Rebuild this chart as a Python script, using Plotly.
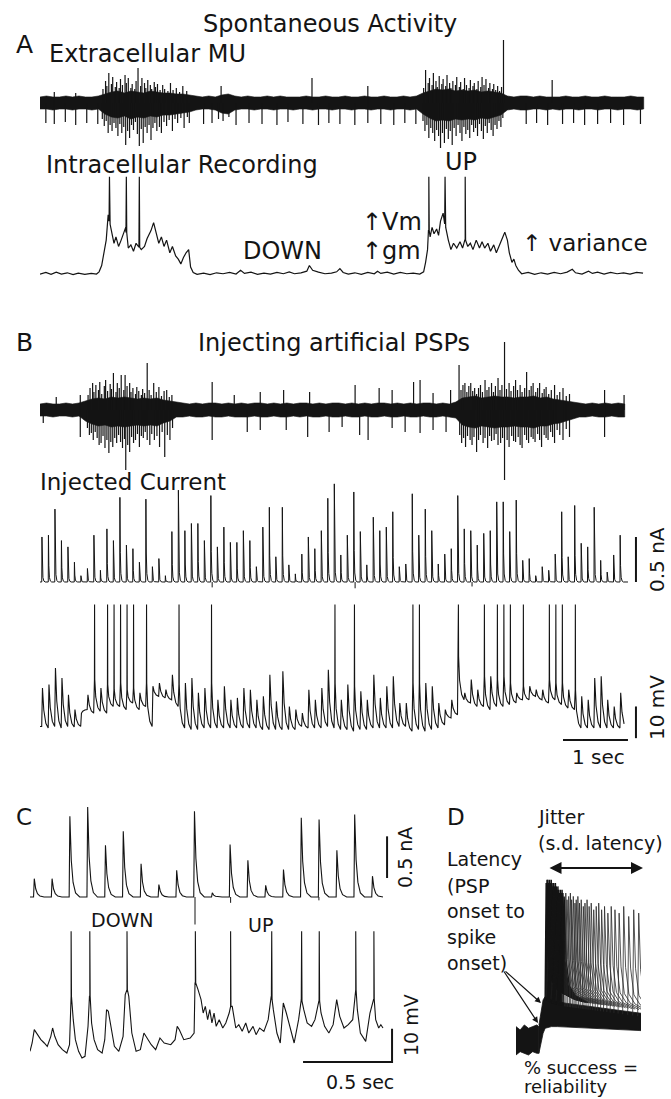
import numpy as np
import plotly.graph_objects as go

W, H = 671, 1099
FONT = "DejaVu Sans"
INK = "#141414"

# ======================= DATA =======================
# ---- Panel A: extracellular multi-unit, dense core envelope per 0.1 s bin (a.u.) ----
a_ext_up = [6, 7, 6, 6, 7, 6, 7, 6, 6, 7,
            9, 11, 12, 10, 12, 11, 10, 12, 11, 10,
            10, 9, 9, 8, 7, 6, 7, 6, 8, 9,
            7, 6, 7, 6, 6, 7, 6, 7, 6, 6,
            6, 7, 6, 6, 7, 6, 6, 7, 6, 6,
            7, 6, 6, 7, 6, 6, 7, 6, 7, 10,
            12, 14, 13, 14, 12, 13, 12, 13, 11, 12,
            11, 10, 7, 6, 7, 7, 6, 7, 6, 6,
            6, 7, 6, 6, 7, 6, 6, 7, 6, 6,
            6, 7, 6, 6]
a_ext_lo = [6, 6, 7, 6, 6, 7, 6, 6, 7, 6,
            11, 14, 15, 13, 16, 14, 15, 13, 14, 12,
            12, 11, 10, 9, 7, 6, 6, 7, 10, 11,
            7, 6, 6, 7, 6, 6, 7, 6, 6, 7,
            6, 6, 7, 6, 6, 7, 6, 6, 7, 6,
            6, 7, 6, 6, 7, 6, 6, 7, 6, 11,
            15, 18, 17, 18, 16, 17, 16, 17, 15, 16,
            14, 12, 7, 6, 7, 7, 6, 6, 7, 6,
            7, 6, 6, 7, 6, 6, 7, 6, 6, 7,
            6, 6, 7, 6]
# unit spikes (time s, amplitude a.u.; negative = downward)
a_ext_spikes = [
    # isolated units during DOWN states
    (0.09, -20), (0.22, -21), (0.22, 11), (0.39, -19), (0.55, -22), (0.55, 10), (0.72, -20), (0.89, -21),
    (2.52, -21), (2.65, -20), (2.75, -16), (2.79, 17), (2.82, -18), (2.91, -14), (3.02, -22), (3.22, -20),
    (3.42, -21), (3.65, -22), (3.82, -19), (4.05, -21), (4.19, 25), (4.29, -22), (4.45, -20), (4.62, -21),
    (4.85, -22), (5.05, -20), (5.05, 17), (5.25, -21), (5.45, -22), (5.62, -20), (5.79, -21),
    (7.49, -21), (7.65, -20), (7.82, -22), (7.89, 23), (8.05, -21), (8.22, -20), (8.39, -22), (8.59, -21),
    (8.79, -20), (8.99, -22), (9.25, -21),
    # first UP state, upward
    (0.97, 14), (1.01, 22), (1.03, 17), (1.06, 30), (1.10, 19), (1.12, 26), (1.16, 16), (1.18, 21),
    (1.22, 15), (1.24, 24), (1.27, 18), (1.31, 28), (1.33, 20), (1.36, 25), (1.40, 15), (1.42, 19),
    (1.46, 14), (1.48, 22), (1.51, 35), (1.55, 17), (1.57, 25), (1.61, 20), (1.63, 15), (1.66, 23),
    (1.70, 18), (1.72, 14), (1.76, 21), (1.78, 16), (1.81, 19), (1.85, 13), (1.89, 18), (1.92, 14),
    (1.97, 12), (2.01, 20), (2.05, 13), (2.10, 15), (2.15, 11), (2.20, 17), (2.26, 12),
    # first UP state, downward
    (0.96, -16), (0.99, -23), (1.02, -18), (1.05, -30), (1.08, -22), (1.11, -28), (1.14, -20), (1.17, -25),
    (1.20, -33), (1.23, -21), (1.26, -30), (1.29, -24), (1.32, -42), (1.35, -28), (1.38, -35), (1.41, -22),
    (1.44, -27), (1.47, -19), (1.50, -31), (1.53, -43), (1.56, -26), (1.59, -40), (1.62, -24), (1.65, -30),
    (1.68, -22), (1.71, -37), (1.74, -25), (1.77, -20), (1.80, -28), (1.84, -24), (1.87, -30), (1.91, -19),
    (1.95, -23), (1.99, -17), (2.04, -28), (2.08, -16), (2.12, -20), (2.17, -15), (2.22, -25), (2.27, -14),
    (2.30, -20),
    # second UP state, upward
    (5.91, 15), (5.94, 33), (5.98, 20), (6.00, 25), (6.04, 18), (6.06, 30), (6.10, 22), (6.12, 16),
    (6.15, 27), (6.19, 19), (6.21, 24), (6.25, 17), (6.27, 28), (6.31, 20), (6.33, 15), (6.36, 22),
    (6.40, 18), (6.42, 26), (6.46, 16), (6.48, 21), (6.52, 14), (6.54, 25), (6.57, 18), (6.61, 15),
    (6.63, 23), (6.67, 17), (6.69, 20), (6.73, 14), (6.75, 22), (6.79, 16), (6.81, 26), (6.84, 18),
    (6.87, 24), (6.91, 15), (6.93, 20), (6.97, 14), (6.99, 19), (7.02, 13), (7.05, 17), (7.08, 12),
    (7.11, 16), (7.14, 63),
    # second UP state, downward
    (5.90, -18), (5.93, -28), (5.96, -22), (5.99, -35), (6.02, -25), (6.05, -30), (6.08, -38), (6.11, -27),
    (6.14, -33), (6.17, -45), (6.20, -30), (6.23, -40), (6.26, -26), (6.29, -36), (6.32, -28), (6.35, -42),
    (6.38, -25), (6.41, -33), (6.44, -22), (6.47, -30), (6.50, -38), (6.53, -24), (6.56, -31), (6.59, -27),
    (6.62, -35), (6.65, -22), (6.68, -29), (6.71, -25), (6.74, -33), (6.77, -21), (6.80, -28), (6.83, -36),
    (6.86, -23), (6.89, -30), (6.92, -20), (6.95, -27), (6.98, -33), (7.01, -22), (7.04, -26), (7.07, -18),
    (7.10, -24), (7.13, -15),
]

# ---- Panel A: intracellular Vm (mV above DOWN-state level) ----
a_vm_pts = [
    (0.00, 0.3), (0.09, 0.8), (0.17, 0.2), (0.25, 0.9), (0.33, 0.3), (0.42, 0.7), (0.51, 0.1), (0.59, 0.6),
    (0.69, 0.2), (0.79, 0.5), (0.87, 0.3), (0.91, 1.0), (0.95, 3.0), (0.99, 7.0), (1.02, 11.0), (1.05, 19.0),
    (1.08, 16.0), (1.11, 13.0), (1.14, 10.0), (1.17, 12.0), (1.21, 9.0), (1.25, 11.0), (1.29, 13.0), (1.32, 15.0),
    (1.36, 8.5), (1.40, 9.5), (1.44, 7.5), (1.48, 10.0), (1.52, 9.0), (1.56, 8.0), (1.61, 9.0), (1.65, 11.5),
    (1.71, 14.0), (1.75, 16.5), (1.79, 13.0), (1.83, 10.0), (1.87, 12.0), (1.91, 9.0), (1.95, 11.0), (2.00, 7.0),
    (2.04, 9.0), (2.09, 6.0), (2.13, 5.0), (2.17, 3.5), (2.21, 5.5), (2.25, 7.0), (2.29, 8.0), (2.32, 2.5),
    (2.36, 0.8), (2.42, 0.2), (2.52, 0.6), (2.62, 0.1), (2.72, 0.7), (2.82, 0.4), (2.92, 0.8), (3.02, 0.3),
    (3.09, 1.5), (3.15, 0.5), (3.25, 0.9), (3.35, 0.2), (3.45, 0.6), (3.55, 0.3), (3.65, 0.8), (3.75, 0.4),
    (3.84, 1.0), (3.92, 0.4), (4.02, 0.7), (4.11, 1.2), (4.15, 3.0), (4.20, 1.5), (4.29, 0.9), (4.39, 0.4),
    (4.49, 0.6), (4.57, 1.0), (4.62, 2.0), (4.67, 0.8), (4.75, 0.3), (4.85, 0.7), (4.95, 0.2), (5.05, 0.8),
    (5.15, 0.4), (5.20, 1.2), (5.25, 0.5), (5.35, 0.9), (5.45, 0.3), (5.55, 0.8), (5.65, 0.4), (5.75, 0.6),
    (5.85, 0.3), (5.91, 1.0), (5.94, 4.0), (5.97, 8.0), (5.99, 14.0), (6.01, 12.0), (6.04, 15.0), (6.07, 13.0),
    (6.11, 14.5), (6.14, 12.5), (6.17, 17.0), (6.21, 19.5), (6.25, 15.0), (6.29, 11.0), (6.33, 8.0), (6.37, 10.0),
    (6.42, 8.5), (6.47, 10.5), (6.51, 8.5), (6.55, 11.0), (6.59, 9.0), (6.63, 10.0), (6.67, 8.0), (6.72, 11.0),
    (6.77, 8.5), (6.81, 10.5), (6.85, 8.5), (6.90, 10.0), (6.94, 7.5), (6.99, 9.5), (7.03, 7.0), (7.07, 9.0),
    (7.12, 11.5), (7.16, 13.5), (7.20, 11.0), (7.23, 7.0), (7.27, 4.0), (7.30, 5.0), (7.33, 3.0), (7.37, 1.5),
    (7.42, 0.4), (7.52, 0.8), (7.62, 0.2), (7.72, 0.7), (7.82, 0.3), (7.92, 0.8), (8.02, 0.4), (8.12, 0.9),
    (8.20, 1.8), (8.25, 0.7), (8.35, 0.3), (8.45, 1.2), (8.51, 0.5), (8.59, 0.9), (8.69, 0.3), (8.79, 0.8),
    (8.89, 0.4), (8.99, 0.7), (9.09, 0.3), (9.19, 0.8), (9.29, 0.6),
]
a_ap_t = [1.07, 1.33, 1.53, 5.99, 6.24, 6.55]
A_AP_TOP = 31.0

# ---- Panel B: extracellular, dense core envelope per 0.1 s bin ----
b_ext_up = [6, 7, 6, 6, 7, 6, 7,
            9, 11, 12, 11, 13, 12, 13, 12, 11, 12, 11, 12, 10, 9,
            8, 7, 6, 7, 6, 7, 7, 6, 7, 6, 7, 6, 7, 7, 6, 7, 6, 7, 6, 7,
            7, 6, 7, 6, 7, 7, 6, 7, 6, 7, 6, 7, 7, 6, 7, 6, 7, 6, 7, 7,
            6, 7, 6, 8,
            12, 13, 14, 12, 13, 14, 13, 13, 12, 13, 13, 14, 12, 13, 11, 10, 9, 8,
            7, 6, 7, 6, 7, 6, 7, 6]
b_ext_lo = [6, 6, 7, 6, 6, 7, 6,
            11, 14, 16, 15, 17, 16, 17, 16, 15, 16, 15, 16, 13, 11,
            7, 7, 6, 7, 7, 6, 7, 7, 6, 7, 7, 7, 6, 7, 7, 6, 7, 7, 6, 7,
            6, 7, 7, 6, 7, 7, 6, 7, 7, 6, 7, 7, 6, 7, 7, 6, 7, 7, 6, 7,
            7, 6, 7, 8,
            15, 17, 18, 16, 17, 18, 17, 17, 16, 17, 17, 18, 16, 16, 14, 13, 11, 9,
            7, 7, 6, 7, 7, 6, 7, 7]
b_ext_spikes = [
    # isolated units between the UP states
    (0.25, 13), (0.62, 15), (2.65, 28), (2.99, 15), (3.39, 18), (3.75, 20), (4.15, 18), (4.85, 25),
    (5.22, 22), (5.42, 20), (5.75, 28), (5.85, 30), (6.05, 17), (6.32, 20), (8.69, 20), (8.99, 15),
    (0.05, -13), (0.62, -27), (2.65, -30), (3.19, -22), (3.39, -20), (3.79, -20), (4.12, -27), (4.45, -22),
    (4.65, -17), (4.92, -25), (5.05, -30), (5.42, -18), (5.62, -22), (5.85, -23), (6.05, -20), (6.25, -22),
    (8.69, -27),
    # first UP state
    (0.74, 15), (0.77, 22), (0.81, 27), (0.83, 18), (0.86, 25), (0.90, 20), (0.92, 28), (0.95, 16),
    (0.99, 24), (1.01, 30), (1.04, 19), (1.08, 26), (1.10, 21), (1.13, 37), (1.17, 18), (1.19, 27),
    (1.22, 22), (1.25, 35), (1.29, 20), (1.31, 35), (1.34, 24), (1.38, 27), (1.40, 18), (1.43, 22),
    (1.47, 16), (1.49, 23), (1.52, 19), (1.56, 15), (1.58, 21), (1.61, 17), (1.65, 47), (1.68, 20),
    (1.71, 15), (1.75, 27), (1.79, 18), (1.83, 23), (1.87, 14), (1.91, 19), (1.95, 20), (1.99, 13), (2.03, 15),
    (0.73, -18), (0.76, -25), (0.79, -23), (0.82, -30), (0.85, -22), (0.88, -28), (0.91, -35), (0.94, -33),
    (0.97, -26), (1.00, -38), (1.03, -30), (1.06, -43), (1.09, -32), (1.12, -37), (1.15, -28), (1.18, -33),
    (1.21, -25), (1.24, -32), (1.27, -38), (1.30, -29), (1.32, -60), (1.35, -35), (1.38, -42), (1.41, -27),
    (1.44, -33), (1.47, -30), (1.50, -24), (1.53, -37), (1.56, -26), (1.59, -28), (1.62, -22), (1.65, -30),
    (1.69, -35), (1.72, -24), (1.76, -30), (1.80, -26), (1.84, -37), (1.88, -22), (1.92, -47), (1.96, -25),
    (2.00, -30), (2.04, -18),
    # second UP state
    (6.45, 45), (6.48, 20), (6.51, 25), (6.54, 27), (6.57, 18), (6.60, 24), (6.63, 27), (6.66, 19),
    (6.69, 22), (6.72, 16), (6.75, 22), (6.78, 25), (6.81, 18), (6.85, 30), (6.88, 20), (6.91, 23),
    (6.95, 27), (6.98, 18), (7.01, 24), (7.05, 32), (7.08, 20), (7.11, 25), (7.15, 68), (7.18, 21),
    (7.22, 27), (7.25, 19), (7.29, 24), (7.32, 30), (7.35, 20), (7.39, 25), (7.42, 18), (7.46, 22),
    (7.49, 38), (7.53, 20), (7.56, 24), (7.59, 27), (7.63, 18), (7.66, 22), (7.69, 27), (7.73, 17),
    (7.76, 21), (7.79, 23), (7.83, 16), (7.87, 20), (7.92, 25), (7.96, 15), (8.00, 18), (8.05, 22),
    (8.10, 14), (8.15, 16),
    (6.46, -25), (6.49, -33), (6.52, -28), (6.55, -37), (6.58, -26), (6.62, -30), (6.65, -35), (6.68, -27),
    (6.72, -42), (6.75, -30), (6.78, -25), (6.82, -33), (6.85, -28), (6.89, -38), (6.92, -26), (6.95, -31),
    (6.99, -30), (7.02, -24), (7.05, -35), (7.09, -33), (7.12, -28), (7.15, -70), (7.19, -30), (7.22, -37),
    (7.26, -26), (7.29, -31), (7.32, -32), (7.36, -27), (7.39, -35), (7.42, -38), (7.46, -25), (7.49, -30),
    (7.52, -33), (7.56, -27), (7.59, -29), (7.62, -32), (7.66, -24), (7.69, -30), (7.72, -37), (7.76, -25),
    (7.79, -28), (7.82, -30), (7.86, -22), (7.89, -27), (7.92, -33), (7.96, -20), (8.00, -25), (8.05, -30),
    (8.10, -19), (8.15, -27),
]

# ---- Panel B: injected current, one pulse every 0.1 s (nA) ----
B_PULSE_T0, PULSE_PERIOD = 0.03, 0.1
b_pulse_nA = [0.50, 0.52, 0.81, 0.46, 0.39, 0.22, 0.07, 0.15, 0.52, 0.13,
              0.59, 0.46, 0.94, 0.41, 0.37, 0.22, 0.92, 0.17, 0.26, 0.07,
              0.56, 1.02, 0.57, 0.65, 0.65, 0.46, 0.96, 0.39, 0.61, 0.44,
              0.44, 0.57, 0.46, 0.17, 0.61, 0.83, 0.28, 0.83, 0.19, 0.09,
              0.31, 0.50, 0.37, 0.57, 0.93, 1.09, 0.30, 0.52, 1.00, 0.56,
              0.19, 0.72, 0.57, 0.61, 0.78, 0.17, 0.20, 0.98, 0.52, 0.81,
              0.57, 0.20, 0.31, 0.37, 0.96, 0.59, 0.57, 0.41, 0.54, 0.57,
              0.89, 0.89, 0.56, 0.91, 0.24, 0.26, 0.07, 0.17, 0.13, 0.31,
              0.78, 0.28, 0.85, 0.43, 0.39, 0.83, 0.24, 0.11, 0.30, 0.52]
b_cur_artifacts = [(2.65, -0.06), (4.85, -0.07), (6.65, -0.05)]

# ---- Panel B: Vm, per pulse: level before the pulse and PSP peak (mV) ----
b_vm_pre = [0.5, 0.0, 0.5, 0.0, 0.5, 0.3, 0.5, 5.8, 4.7, 5.3,
            4.7, 6.8, 6.8, 5.8, 7.9, 5.8, 6.8, 0.5, 10.0, 9.5,
            8.9, 6.8, 0.0, -0.5, -0.5, 0.0, 0.0, 0.0, 0.0, 0.0,
            0.0, 0.0, 0.0, 0.0, -0.5, -0.5, -0.5, -0.5, -0.5, -0.5,
            0.5, 0.0, 0.0, 0.0, 0.5, 0.0, -0.5, -0.5, -1.0, -0.5,
            -0.5, 0.0, 0.0, 0.0, 0.0, 0.5, 0.5, -1.0, -0.5, -1.0,
            -0.5, 0.0, 1.0, 3.2, 4.2, 8.9, 7.9, 6.8, 6.8, 5.8,
            6.8, 6.8, 7.4, 7.9, 8.9, 8.9, 10.0, 8.9, 7.9, 8.9,
            7.4, 6.3, 5.8, 0.0, 0.0, 0.0, 0.0, 0.0, 0.0, 0.0]
b_vm_peak = [12.6, 13.7, 18.9, 15.8, 10.5, 5.8, 4.7, 10.5, 15.3, 12.6,
             13.7, 12.1, 14.2, 12.1, 12.6, 11.1, 14.2, 13.2, 14.2, 12.1,
             16.8, 13.7, 14.2, 15.8, 11.1, 12.6, 14.2, 8.9, 13.2, 8.9,
             9.5, 12.6, 12.1, 8.9, 10.0, 16.8, 8.4, 17.9, 6.8, 5.8,
             4.7, 12.1, 8.9, 12.6, 18.4, 14.2, 8.9, 13.7, 13.2, 11.6,
             8.9, 16.8, 9.5, 13.2, 16.3, 7.9, 7.9, 14.2, 14.2, 14.2,
             13.2, 7.9, 5.8, 8.9, 22.6, 11.1, 15.3, 12.1, 16.3, 16.3,
             15.3, 16.3, 14.2, 11.1, 13.2, 13.2, 12.1, 12.1, 15.3, 14.2,
             14.2, 12.1, 12.1, 10.0, 8.9, 15.8, 16.3, 8.9, 6.8, 11.1]
b_vm_spike_pulse = [9, 11, 12, 13, 14, 15, 17, 22, 27, 46, 49, 58, 59, 65,
                    69, 71, 72, 73, 75, 79, 80, 81, 83]   # 1-based pulse numbers
B_AP_TOP = 39.0

# ---- Panel C: injected current (nA), one pulse every 0.1 s ----
C_PULSE_T0 = 0.024
c_pulse_nA = [0.22, 0.22, 0.97, 1.08, 0.62, 0.79, 0.40, 0.15, 0.32, 1.03,
              0.05, 0.63, 0.44, 0.14, 0.33, 0.95, 0.93, 0.56, 0.99, 0.25]
c_cur_artifacts = [(0.927, -0.33), (1.127, -0.07), (1.623, -0.04)]

# ---- Panel C: Vm (mV above DOWN-state level) ----
c_vm_pts = [
    (0.000, 0.5), (0.012, 3.0), (0.024, 7.0), (0.044, 5.5), (0.061, 4.0), (0.080, 3.0), (0.097, 2.0),
    (0.117, 5.0), (0.127, 7.5), (0.139, 5.0), (0.158, 2.5), (0.182, 1.0), (0.207, 0.0), (0.222, 2.5),
    (0.231, 17.0), (0.243, 10.0), (0.255, 4.0), (0.273, 0.5), (0.292, -1.5), (0.309, -1.0), (0.326, 8.0),
    (0.336, 17.0), (0.346, 9.0), (0.360, 4.0), (0.380, 1.0), (0.405, 0.0), (0.420, 4.0), (0.430, 13.0),
    (0.440, 12.5), (0.457, 7.0), (0.474, 2.0), (0.499, 0.5), (0.523, 5.0), (0.535, 17.5), (0.545, 19.0),
    (0.555, 17.0), (0.572, 6.0), (0.596, 0.5), (0.620, 1.0), (0.640, 6.0), (0.657, 4.5), (0.681, 2.5),
    (0.706, 1.0), (0.730, 4.5), (0.754, 3.0), (0.791, 2.5), (0.815, 4.0), (0.827, 8.0), (0.839, 7.0),
    (0.864, 4.0), (0.900, 4.5), (0.922, 6.0), (0.929, 21.0), (0.944, 19.0), (0.961, 16.0), (0.973, 12.0),
    (0.985, 14.0), (0.998, 10.0), (1.010, 13.0), (1.022, 9.0), (1.034, 12.0), (1.046, 8.0), (1.063, 10.0),
    (1.083, 7.5), (1.100, 9.0), (1.119, 12.0), (1.127, 14.0), (1.136, 14.0), (1.156, 7.5), (1.173, 8.5),
    (1.192, 6.5), (1.212, 9.0), (1.229, 6.0), (1.253, 8.0), (1.270, 5.5), (1.290, 7.5), (1.314, 6.5),
    (1.338, 10.0), (1.355, 17.0), (1.367, 13.0), (1.387, 6.0), (1.406, 3.0), (1.423, 15.0), (1.440, 12.0),
    (1.460, 7.5), (1.484, 3.0), (1.509, 10.0), (1.524, 16.0), (1.538, 13.0), (1.557, 9.0), (1.582, 8.0),
    (1.601, 10.0), (1.624, 16.0), (1.635, 12.0), (1.655, 8.0), (1.679, 6.0), (1.703, 8.5), (1.723, 16.0),
    (1.740, 11.0), (1.764, 7.5), (1.788, 8.5), (1.813, 10.0), (1.830, 19.0), (1.839, 13.0), (1.856, 6.0),
    (1.886, 3.5), (1.910, 12.0), (1.932, 16.0), (1.942, 10.0), (1.959, 7.5), (1.971, 8.5), (1.983, 7.5),
]
c_ap_t = [0.231, 0.336, 0.545, 0.929, 1.127, 1.358, 1.526, 1.625, 1.830, 1.932]
C_AP_TOP = 36.5

# ---- Panel D: overlaid sweeps around the PSP (ms, mV) ----
d_noise_t = [0.0, 1.0, 2.0, 3.0, 4.0, 5.0, 5.5]
d_noise_hi = [4.0, 3.0, 4.5, 3.5, 4.0, 4.5, 4.0]
d_noise_lo = [-4.5, -3.5, -4.0, -4.5, -3.5, -4.0, -4.0]
d_psp_t = [5.5, 6.0, 6.5, 7.0, 8.5, 10.0, 12.0, 15.0, 18.0, 21.0, 24.0, 27.0, 30.0]
d_psp_hi = [4.5, 9.0, 12.0, 13.0, 12.0, 11.5, 11.0, 10.5, 10.0, 9.5, 9.0, 8.5, 8.0]
d_psp_lo = [-4.0, -1.0, 2.0, 3.5, 4.0, 4.0, 4.0, 3.8, 3.6, 3.4, 3.2, 3.0, 2.8]
d_lat = [7.0, 7.2, 7.4, 7.6, 7.8, 8.0, 8.2, 8.4, 8.6, 8.8, 9.0, 9.2, 9.4, 9.6, 9.8, 10.0, 10.2,
         10.4, 10.6, 10.8, 11.0, 11.3, 11.7, 12.0, 12.4, 12.8, 13.1, 13.5, 13.9, 14.2, 14.6, 15.0,
         15.4, 15.9, 16.3, 16.8, 17.3, 17.8, 18.4, 19.0, 19.6, 20.3, 21.0, 21.8, 22.6, 23.5,
         24.5, 25.6, 26.8, 28.0, 29.2]
d_peak = [47, 48, 48, 47, 48, 47, 48, 47, 46, 47, 46, 47, 46, 45, 46, 45, 44,
          45, 44, 45, 44, 43, 44, 42, 43, 44, 42, 43, 41, 42, 43, 41,
          42, 40, 41, 42, 40, 41, 39, 40, 41, 39, 40, 38, 40, 39,
          38, 40, 37, 39, 38]

SCALE_NA, SCALE_MV, SCALE_B_S, SCALE_C_S = 0.5, 10.0, 1.0, 0.5

# ======================= LAYOUT HELPERS =======================
# name: (x px left, right), (y px top, bottom), x range, y range
panels = {
    "aext": ((40, 645), (30, 175), [0, 9.32], [-72, 73]),
    "avm": ((40, 645), (170, 285), [0, 9.32], [-3.15, 33.1]),
    "bext": ((40, 660), (335, 490), [0, 9.543], [-80, 75]),
    "bcur": ((40, 660), (480, 590), [0, 9.543], [-0.089, 1.133]),
    "bvm": ((40, 660), (600, 745), [0, 9.543], [-5.36, 40.4]),
    "ccur": ((30, 420), (800, 930), [0, 2.191], [-0.396, 1.164]),
    "cvm": ((30, 420), (925, 1070), [0, 2.191], [-5.1, 38.4]),
    "d": ((516, 641), (853, 1060), [0, 30], [-6, 56]),
}
ax_id = {}
layout_axes = {}
for i, (name, (xp, yp, xr, yr)) in enumerate(panels.items(), start=1):
    sfx = "" if i == 1 else str(i)
    ax_id[name] = ("x" + sfx, "y" + sfx)
    layout_axes["xaxis" + sfx] = dict(domain=[xp[0] / W, xp[1] / W], range=xr, visible=False,
                                      fixedrange=True, anchor="y" + sfx)
    layout_axes["yaxis" + sfx] = dict(domain=[1 - yp[1] / H, 1 - yp[0] / H], range=yr, visible=False,
                                      fixedrange=True, anchor="x" + sfx)

fig = go.Figure()


def add(name, x, y, width=1.0, color=INK, fill=None, fillcolor=None):
    xa, ya = ax_id[name]
    fig.add_trace(go.Scatter(x=x, y=y, mode="lines", xaxis=xa, yaxis=ya,
                             line=dict(color=color, width=width), fill=fill, fillcolor=fillcolor,
                             hoverinfo="skip", showlegend=False))


def segments(pairs, base=0.0):
    xs, ys = [], []
    for t, a in pairs:
        xs += [t, t, None]
        ys += [base, a, None]
    return xs, ys


def with_spikes(t, v, spikes, top, dt):
    pts = list(zip(t, v))
    for s in spikes:
        b = float(np.interp(s, t, v))
        pts += [(s - dt / 2, b), (s, top), (s + dt / 2, b)]
    pts.sort(key=lambda p: p[0])
    return [p[0] for p in pts], [p[1] for p in pts]


def band(name, up, lo, step=0.1):
    t = list(np.round(np.arange(len(up)) * step, 3))
    xs = t + t[::-1]
    ys = list(up) + [-v for v in lo][::-1]
    add(name, xs, ys, width=0.6, fill="toself", fillcolor=INK)


def pulses(t0, heights, shape):
    xs, ys = [], []
    for k, h in enumerate(heights):
        tk = t0 + k * PULSE_PERIOD
        for off, frac in shape:
            xs.append(tk + off)
            ys.append(h * frac)
    return xs, ys


# ======================= PANEL A =======================
band("aext", a_ext_up, a_ext_lo)
sx, sy = segments(a_ext_spikes)
add("aext", sx, sy, width=1.2)

at, av = zip(*a_vm_pts)
x, y = with_spikes(list(at), list(av), a_ap_t, A_AP_TOP, 0.012)
add("avm", x, y, width=1.2)

# ======================= PANEL B =======================
band("bext", b_ext_up, b_ext_lo)
sx, sy = segments(b_ext_spikes)
add("bext", sx, sy, width=1.2)

B_SHAPE = [(-0.003, 0.0), (0.0, 1.0), (0.006, 0.35), (0.015, 0.1), (0.03, 0.02), (0.05, 0.0)]
px_, py_ = pulses(B_PULSE_T0, b_pulse_nA, B_SHAPE)
add("bcur", [0] + px_ + [9.05], [0] + py_ + [0], width=1.0)
sx, sy = segments(b_cur_artifacts)
add("bcur", sx, sy, width=1.0)

spk = set(n - 1 for n in b_vm_spike_pulse)
bx, by = [0.0], [b_vm_pre[0]]
n = len(b_vm_peak)
for k in range(n):
    tk = B_PULSE_T0 + k * PULSE_PERIOD
    pk = b_vm_peak[k]
    bx += [tk - 0.004, tk + 0.008]
    by += [b_vm_pre[k], pk]
    if k in spk:
        bx += [tk + 0.010, tk + 0.013]
        by += [B_AP_TOP, pk]
    nxt = b_vm_pre[k + 1] if k + 1 < n else b_vm_pre[k]
    bx += [tk + 0.028, tk + 0.06]
    by += [nxt + 0.45 * (pk - nxt), nxt + 0.12 * (pk - nxt)]
add("bvm", bx, by, width=1.1)

# scale bars B
add("bcur", [9.173, 9.173], [0, SCALE_NA], width=2)
add("bvm", [9.173, 9.173], [-3.2, -3.2 + SCALE_MV], width=2)
add("bvm", [9.05 - SCALE_B_S, 9.05], [-3.8, -3.8], width=2)

# ======================= PANEL C =======================
C_SHAPE = [(-0.004, 0.0), (0.0, 1.0), (0.008, 0.45), (0.018, 0.18), (0.032, 0.05), (0.055, 0.0)]
px_, py_ = pulses(C_PULSE_T0, c_pulse_nA, C_SHAPE)
add("ccur", [0] + px_ + [1.983], [0] + py_ + [0], width=1.1)
sx, sy = segments(c_cur_artifacts)
add("ccur", sx, sy, width=1.0)

ct, cv = zip(*c_vm_pts)
x, y = with_spikes(list(ct), list(cv), c_ap_t, C_AP_TOP, 0.004)
add("cvm", x, y, width=1.1)

add("ccur", [2.006, 2.006], [0.228, 0.228 + SCALE_NA], width=2)
add("cvm", [2.034 - SCALE_C_S, 2.034, 2.034], [-2.7, -2.7, -2.7 + SCALE_MV], width=2)

# ======================= PANEL D =======================
add("d", d_noise_t + d_noise_t[::-1], d_noise_hi + d_noise_lo[::-1], width=0.8,
    fill="toself", fillcolor=INK)
add("d", d_psp_t + d_psp_t[::-1], d_psp_hi + d_psp_lo[::-1], width=0.8,
    fill="toself", fillcolor=INK)
for lat, pk in zip(d_lat, d_peak):
    base = float(np.interp(lat, d_psp_t, d_psp_hi)) - 1.0
    xs = [lat, lat + 0.25, lat + 0.7, lat + 1.5, lat + 3.0, lat + 6.0]
    ys = [base, pk, base + 14, base + 6, base + 3, base + 1]
    dense = lat < 11.5
    add("d", xs, ys, width=1.5 if dense else 0.8, color=INK if dense else "#2a2a2a")

# ======================= TEXT =======================
ann = []


def txt(s, x, y, size=24, anchor="left", angle=0):
    ann.append(dict(text=s, x=x / W, y=1 - y / H, xref="paper", yref="paper", xanchor=anchor,
                    yanchor="middle", showarrow=False, textangle=angle,
                    font=dict(family=FONT, size=size, color=INK)))


txt("Spontaneous Activity", 330, 24, 24, "center")
txt("A", 14, 44, 25)
txt("Extracellular MU", 47, 54, 24)
txt("Intracellular Recording", 44, 165, 24)
txt("UP", 443, 162, 24)
txt("↑Vm", 360, 222, 24)
txt("↑gm", 360, 251, 24)
txt("DOWN", 241, 251, 24)
txt("↑ variance", 520, 243, 23)
txt("B", 14, 343, 25)
txt("Injecting artificial PSPs", 334, 343, 24, "center")
txt("Injected Current", 38, 482, 23)
txt("0.5 nA", 657, 560, 20, "center", -90)
txt("10 mV", 657, 708, 20, "center", -90)
txt("1 sec", 598, 757, 20, "center")
txt("C", 14, 817, 23)
txt("0.5 nA", 405, 857, 19, "center", -90)
txt("DOWN", 89, 920, 19)
txt("UP", 246, 925, 19)
txt("10 mV", 411, 1025, 19, "center", -90)
txt("0.5 sec", 360, 1082, 19, "center")
txt("D", 445, 817, 23)
txt("Jitter", 536, 817, 19)
txt("(s.d. latency)", 536, 843, 19)
for s, yy in [("Latency", 859), ("(PSP", 886), ("onset to", 911), ("spike", 937), ("onset)", 963)]:
    txt(s, 445, yy, 19)
txt("% success =", 522, 1067, 18)
txt("reliability", 522, 1086, 18)

# arrows
ann.append(dict(x=643 / W, y=1 - 868 / H, xref="paper", yref="paper", ax=-95, ay=0, text="",
                showarrow=True, arrowhead=2, arrowside="end+start", arrowsize=1.2, arrowwidth=2,
                arrowcolor=INK, startarrowhead=2, startarrowsize=1.2))
for hx, hy, axp, ayp in [(541, 1003, -37, -33), (538, 1023, -35, -53)]:
    ann.append(dict(x=hx / W, y=1 - hy / H, xref="paper", yref="paper", ax=axp, ay=ayp, text="",
                    showarrow=True, arrowhead=2, arrowsize=1, arrowwidth=1.2, arrowcolor=INK))

fig.update_layout(width=W, height=H, margin=dict(l=0, r=0, t=0, b=0),
                  paper_bgcolor="white", plot_bgcolor="rgba(0,0,0,0)",
                  annotations=ann, **layout_axes)
fig.write_html("out.html")
